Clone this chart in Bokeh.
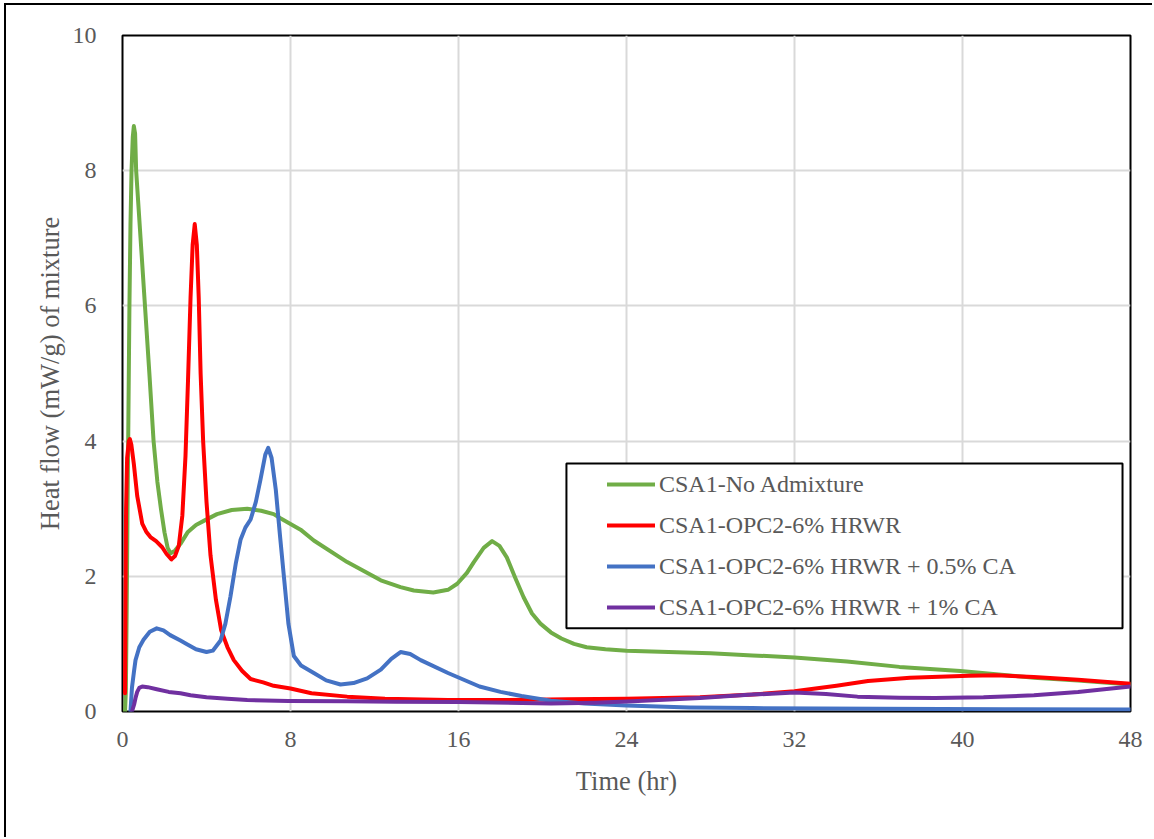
from bokeh.plotting import figure
from bokeh.models import Legend, LegendItem, BoxAnnotation, FixedTicker, Range1d
from bokeh.embed import file_html
from bokeh.resources import INLINE

# ---------------- data ----------------
x_ticks = [0, 8, 16, 24, 32, 40, 48]
y_ticks = [0, 2, 4, 6, 8, 10]

labels = [
    "CSA1-No Admixture",
    "CSA1-OPC2-6% HRWR",
    "CSA1-OPC2-6% HRWR + 0.5% CA",
    "CSA1-OPC2-6% HRWR + 1% CA",
]

green_x = [0.12, 0.16, 0.20, 0.24, 0.28, 0.33, 0.38, 0.43, 0.49, 0.54, 0.60, 0.65, 0.86, 1.07,
           1.28, 1.48, 1.66, 1.83, 2.00, 2.15, 2.29, 2.50, 2.76, 3.10, 3.50, 3.87, 4.50, 5.20,
           5.94, 6.60, 7.20, 7.52, 8.48, 9.11, 10.7, 12.3, 13.24, 13.87, 14.8, 15.5, 15.94,
           16.4, 16.73, 17.2, 17.6, 17.95, 18.3, 18.7, 19.1, 19.5, 19.9, 20.4, 20.9, 21.5,
           22.1, 23.0, 24.0, 26.0, 28.0, 30.0, 32.0, 34.5, 37.0, 39.9, 43.4, 45.5, 48.0]
green_y = [0.0, 0.30, 1.50, 3.00, 4.30, 6.00, 7.20, 8.00, 8.50, 8.66, 8.55, 8.00, 7.00, 6.00,
           5.00, 4.00, 3.40, 3.00, 2.65, 2.42, 2.34, 2.38, 2.48, 2.65, 2.76, 2.82, 2.92, 2.98,
           3.00, 2.97, 2.92, 2.86, 2.69, 2.53, 2.21, 1.94, 1.84, 1.79, 1.76, 1.80, 1.89,
           2.05, 2.21, 2.42, 2.52, 2.45, 2.28, 1.98, 1.69, 1.45, 1.30, 1.17, 1.08, 1.00,
           0.95, 0.92, 0.90, 0.88, 0.86, 0.83, 0.80, 0.74, 0.66, 0.60, 0.50, 0.46, 0.40]

red_x = [0.12, 0.14, 0.17, 0.22, 0.30, 0.35, 0.42, 0.54, 0.70, 0.94, 1.13, 1.33, 1.60, 1.89,
         2.10, 2.33, 2.50, 2.68, 2.85, 3.00, 3.12, 3.24, 3.34, 3.44, 3.54, 3.63, 3.72, 3.84,
         4.00, 4.19, 4.45, 4.70, 5.00, 5.30, 5.70, 6.10, 6.70, 7.20, 8.00, 9.00, 10.7, 12.5,
         15.5, 18.0, 21.2, 24.0, 27.5, 30.0, 32.0, 34.0, 35.5, 37.5, 40.3, 41.6, 43.4, 45.5, 48.0]
red_y = [0.27, 1.50, 3.00, 3.75, 4.00, 4.03, 3.95, 3.66, 3.19, 2.78, 2.66, 2.58, 2.52, 2.43,
         2.33, 2.25, 2.30, 2.45, 2.90, 3.78, 4.90, 6.12, 6.90, 7.21, 6.90, 6.12, 5.00, 4.00,
         3.10, 2.31, 1.65, 1.20, 0.95, 0.76, 0.60, 0.48, 0.43, 0.38, 0.34, 0.27, 0.22, 0.19,
         0.17, 0.17, 0.18, 0.19, 0.21, 0.25, 0.30, 0.38, 0.45, 0.50, 0.53, 0.535, 0.51, 0.47, 0.41]

blue_x = [0.38, 0.45, 0.55, 0.62, 0.80, 1.00, 1.30, 1.63, 1.95, 2.27, 2.76, 3.05, 3.50, 4.00,
          4.30, 4.67, 4.90, 5.14, 5.40, 5.62, 5.85, 6.10, 6.35, 6.57, 6.80, 6.94, 7.10, 7.30,
          7.50, 7.70, 7.90, 8.16, 8.50, 9.11, 9.70, 10.38, 11.0, 11.65, 12.3, 12.8, 13.24,
          13.7, 14.2, 15.5, 17.0, 18.0, 19.0, 20.4, 22.0, 24.0, 27.0, 30.0, 36.0, 42.0, 48.0]
blue_y = [0.0, 0.35, 0.60, 0.76, 0.95, 1.06, 1.18, 1.23, 1.20, 1.13, 1.05, 1.00, 0.92, 0.88,
          0.90, 1.05, 1.30, 1.70, 2.20, 2.54, 2.72, 2.84, 3.10, 3.43, 3.80, 3.90, 3.75, 3.28,
          2.60, 1.95, 1.30, 0.82, 0.68, 0.57, 0.46, 0.40, 0.42, 0.49, 0.62, 0.78, 0.88,
          0.85, 0.76, 0.57, 0.37, 0.29, 0.23, 0.16, 0.12, 0.09, 0.06, 0.05, 0.04, 0.035, 0.03]

purple_x = [0.45, 0.55, 0.62, 0.70, 0.80, 0.94, 1.20, 1.63, 2.20, 2.76, 3.24, 4.00, 5.00, 5.94,
            7.90, 10.7, 13.0, 16.0, 20.4, 22.5, 24.3, 27.5, 30.0, 32.0, 33.5, 35.0, 37.0,
            38.7, 41.0, 43.4, 45.5, 48.0]
purple_y = [0.0, 0.10, 0.20, 0.29, 0.35, 0.37, 0.36, 0.33, 0.29, 0.27, 0.24, 0.21, 0.19, 0.17,
            0.155, 0.15, 0.145, 0.14, 0.12, 0.13, 0.15, 0.20, 0.25, 0.28, 0.26, 0.22, 0.205,
            0.20, 0.21, 0.24, 0.29, 0.37]

colors = ["#70AD47", "#FF0000", "#4472C4", "#7030A0"]
series = [(green_x, green_y), (red_x, red_y), (blue_x, blue_y), (purple_x, purple_y)]

FONT = "Liberation Serif"
TXT = "#595959"

p = figure(width=1148, height=834, x_range=Range1d(0, 48), y_range=Range1d(0, 10),
           output_backend="svg", toolbar_location=None,
           min_border_left=116, min_border_top=30, min_border_right=24, min_border_bottom=128)
p.margin = (3, 0, 0, 4)
p.styles = {"border-left": "2px solid #000000", "border-top": "2px solid #000000"}
p.background_fill_color = "white"
p.border_fill_color = "white"
p.outline_line_color = "black"
p.outline_line_width = 2
p.outline_line_alpha = 1

p.xaxis.ticker = FixedTicker(ticks=x_ticks)
p.yaxis.ticker = FixedTicker(ticks=y_ticks)
p.xgrid.ticker = FixedTicker(ticks=x_ticks)
p.ygrid.ticker = FixedTicker(ticks=y_ticks)
for g in (p.xgrid, p.ygrid):
    g.grid_line_color = "#D9D9D9"
    g.grid_line_width = 2

for ax in (p.xaxis, p.yaxis):
    ax.axis_line_color = None
    ax.major_tick_line_color = None
    ax.minor_tick_line_color = None
    ax.major_label_text_font = FONT
    ax.major_label_text_font_size = "24px"
    ax.major_label_text_color = TXT
    ax.axis_label_text_font = FONT
    ax.axis_label_text_font_size = "26.5px"
    ax.axis_label_text_color = TXT
    ax.axis_label_text_font_style = "normal"

p.xaxis.axis_label = "Time (hr)"
p.yaxis.axis_label = "Heat flow (mW/g) of mixture"
p.xaxis.major_label_standoff = 14
p.yaxis.major_label_standoff = 20
p.xaxis.axis_label_standoff = 16
p.yaxis.axis_label_standoff = 5

renderers = []
for (xs, ys), c in zip(series, colors):
    r = p.line(xs, ys, line_color=c, line_width=4, line_join="round", line_cap="round")
    renderers.append(r)

box = BoxAnnotation(left=21.14, right=47.62, bottom=1.23, top=3.67,
                    fill_color="white", fill_alpha=1.0, line_color="black",
                    line_alpha=1.0, line_width=2, line_dash="solid")
p.add_layout(box)

legend = Legend(items=[LegendItem(label=l, renderers=[r]) for l, r in zip(labels, renderers)],
                location=(485, 89), border_line_color=None, background_fill_alpha=0,
                padding=0, margin=0, spacing=11, label_height=30, glyph_height=30,
                glyph_width=48, label_standoff=4,
                label_text_font=FONT, label_text_font_size="24px", label_text_color=TXT)
p.add_layout(legend)

open("out.html", "w").write(file_html(p, INLINE))
